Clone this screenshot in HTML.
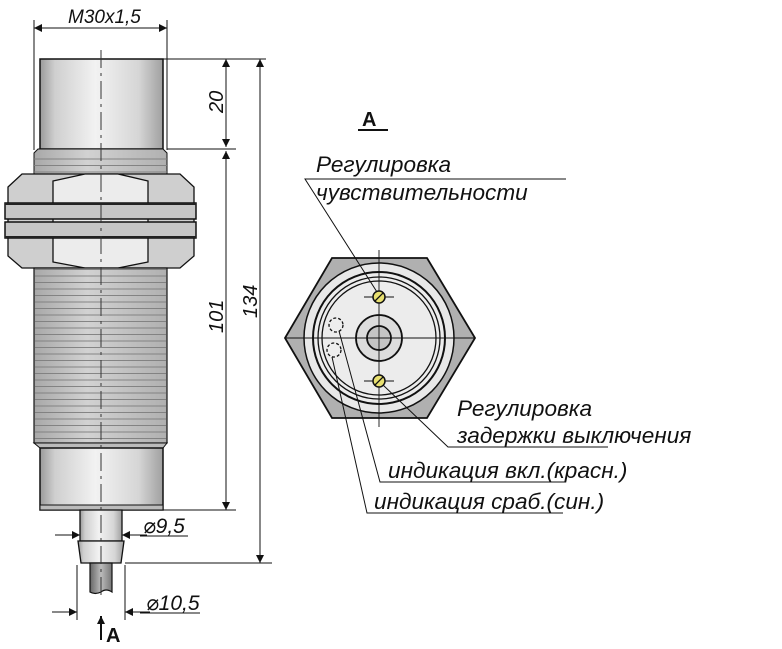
<!DOCTYPE html>
<html><head><meta charset="utf-8"><style>
html,body{margin:0;padding:0;background:#fff;width:782px;height:649px;overflow:hidden}
svg{display:block}
text{font-family:"Liberation Sans","DejaVu Sans",sans-serif;fill:#111}
.it{font-style:italic;font-size:22.6px}
</style></head><body>
<svg width="782" height="649" viewBox="0 0 782 649" xmlns="http://www.w3.org/2000/svg">
<defs>
<linearGradient id="cyl" x1="0" x2="1" y1="0" y2="0">
<stop offset="0" stop-color="#9a9a9a"/><stop offset="0.12" stop-color="#cfcfcf"/><stop offset="0.45" stop-color="#f2f2f2"/><stop offset="0.8" stop-color="#d6d6d6"/><stop offset="1" stop-color="#a0a0a0"/>
</linearGradient>
<linearGradient id="thr" x1="0" x2="1" y1="0" y2="0">
<stop offset="0" stop-color="#a8a8a8"/><stop offset="0.4" stop-color="#d2d2d2"/><stop offset="1" stop-color="#b0b0b0"/>
</linearGradient>
<pattern id="tl" width="10" height="6.5" patternUnits="userSpaceOnUse">
<line x1="0" y1="3" x2="10" y2="3" stroke="#7d7d7d" stroke-width="0.9"/>
</pattern>
<linearGradient id="cab" x1="0" x2="1"><stop offset="0" stop-color="#666"/><stop offset="0.5" stop-color="#bbb"/><stop offset="1" stop-color="#777"/></linearGradient>
<marker id="ar" viewBox="0 0 10 10" refX="10" refY="5" markerWidth="12" markerHeight="8" orient="auto-start-reverse" markerUnits="userSpaceOnUse"><path d="M0,0 L10,5 L0,10z" fill="#111"/></marker>
</defs>

<rect x="40" y="59" width="123" height="90" fill="url(#cyl)" stroke="#111" stroke-width="1.5"/>
<path d="M34,153 L38,149 L163,149 L167,153 L167,175 L34,175z" fill="url(#thr)" stroke="#111" stroke-width="1"/>
<rect x="34" y="153" width="133" height="22" fill="url(#tl)"/>
<path d="M8,187 L22,174 L180,174 L194,187 L194,256 L180,268 L22,268 L8,256z" fill="#cfcfcf" stroke="#111" stroke-width="1.3"/>
<path d="M53,181 L85,174 L118,174 L148,181 L148,262 L118,268 L85,268 L53,262z" fill="#ececec" stroke="#111" stroke-width="1.3"/>
<rect x="5" y="203" width="191" height="16" fill="#c6c6c6" stroke="#111" stroke-width="1.5"/>
<rect x="5" y="222" width="191" height="16" fill="#c6c6c6" stroke="#111" stroke-width="1.5"/>
<line x1="5" y1="204" x2="196" y2="204" stroke="#222" stroke-width="2"/>
<line x1="5" y1="237" x2="196" y2="237" stroke="#222" stroke-width="2"/>
<rect x="34" y="268" width="133" height="175" fill="url(#thr)" stroke="#111" stroke-width="1.2"/>
<rect x="35" y="268" width="131" height="175" fill="url(#tl)"/>
<path d="M34,443 L167,443 L163,448 L40,448z" fill="#bbb" stroke="#111"/>
<rect x="40" y="448" width="123" height="62" fill="url(#cyl)" stroke="#111" stroke-width="1.5"/>
<rect x="40" y="505" width="123" height="5" fill="#bbb" stroke="#111"/>
<rect x="80" y="510" width="42" height="31" fill="url(#cyl)" stroke="#111" stroke-width="1.3"/>
<path d="M78,541 L124,541 L121,563 L81,563z" fill="url(#cyl)" stroke="#111" stroke-width="1.3"/>
<path d="M90,563 L112,563 L112,592 Q106,588 101,592 Q95,595 90,592z" fill="url(#cab)" stroke="#111" stroke-width="1.2"/>
<line x1="101" y1="50" x2="101" y2="600" stroke="#333" stroke-width="1" stroke-dasharray="18,5,3,5"/>

<g stroke="#111" stroke-width="1" fill="none">
<line x1="34" y1="20" x2="34" y2="150"/><line x1="167" y1="20" x2="167" y2="150"/>
<line x1="34" y1="28" x2="167" y2="28" marker-start="url(#ar)" marker-end="url(#ar)"/>
<line x1="163" y1="59" x2="266" y2="59"/>
<line x1="167" y1="149" x2="236" y2="149"/>
<line x1="163" y1="510" x2="236" y2="510"/>
<line x1="125" y1="563" x2="272" y2="563"/>
<line x1="226" y1="59" x2="226" y2="147" marker-start="url(#ar)" marker-end="url(#ar)"/>
<line x1="226" y1="151" x2="226" y2="510" marker-start="url(#ar)" marker-end="url(#ar)"/>
<line x1="260" y1="59" x2="260" y2="563" marker-start="url(#ar)" marker-end="url(#ar)"/>
<line x1="55" y1="535" x2="80" y2="535" marker-end="url(#ar)"/>
<line x1="147" y1="535" x2="122" y2="535" marker-end="url(#ar)"/>
<line x1="140" y1="536" x2="188" y2="536"/>
<line x1="77" y1="565" x2="77" y2="620"/><line x1="125" y1="565" x2="125" y2="620"/>
<line x1="52" y1="612" x2="77" y2="612" marker-end="url(#ar)"/>
<line x1="150" y1="612" x2="125" y2="612" marker-end="url(#ar)"/>
<line x1="140" y1="613" x2="200" y2="613"/>
<line x1="101" y1="640" x2="101" y2="616" stroke-width="2" marker-end="url(#ar)"/>
</g>
<text x="68" y="23" font-size="19" font-style="italic">M30x1,5</text>
<text transform="translate(223,113) rotate(-90)" font-size="20" font-style="italic">20</text>
<text transform="translate(223,333) rotate(-90)" font-size="20" font-style="italic">101</text>
<text transform="translate(257,318) rotate(-90)" font-size="20" font-style="italic">134</text>
<text x="143" y="533" font-size="21" font-style="italic">⌀9,5</text>
<text x="146" y="610" font-size="21" font-style="italic">⌀10,5</text>
<text x="106" y="642" font-size="20" font-weight="bold">A</text>

<text x="362" y="126" font-size="20" font-weight="bold">A</text>
<line x1="358" y1="130" x2="388" y2="130" stroke="#111" stroke-width="2"/>
<path d="M332,258 L427,258 L475,338 L427,418 L332,418 L285,338z" fill="#b0b0b0" stroke="#111" stroke-width="1.8"/>
<circle cx="379" cy="338" r="75" fill="#e8e8e8" stroke="#111" stroke-width="1.5"/>
<circle cx="379" cy="338" r="66" fill="#ececec" stroke="#111" stroke-width="2"/>
<circle cx="379" cy="338" r="61" fill="#ececec" stroke="#111" stroke-width="1.3"/>
<circle cx="379" cy="338" r="57" fill="#ececec" stroke="#111" stroke-width="1.3"/>
<circle cx="379" cy="338" r="23" fill="#dcdcdc" stroke="#111" stroke-width="1.8"/>
<circle cx="379" cy="338" r="12" fill="#c4c4c4" stroke="#111" stroke-width="1.8"/>
<g stroke="#111" stroke-width="0.9">
<line x1="286" y1="338" x2="474" y2="338"/>
<line x1="379" y1="250" x2="379" y2="427"/>
<line x1="364" y1="297" x2="394" y2="297"/><line x1="364" y1="381" x2="394" y2="381"/>
</g>
<circle cx="379" cy="297" r="6" fill="#e8e070" stroke="#111" stroke-width="1.5"/>
<line x1="375" y1="301" x2="383" y2="293" stroke="#111" stroke-width="1.3"/>
<circle cx="379" cy="381" r="6" fill="#e8e070" stroke="#111" stroke-width="1.5"/>
<line x1="375" y1="385" x2="383" y2="377" stroke="#111" stroke-width="1.3"/>
<circle cx="336" cy="325" r="7" fill="#eee" stroke="#111" stroke-width="1.3" stroke-dasharray="3,2"/>
<circle cx="334" cy="350" r="7" fill="#eee" stroke="#111" stroke-width="1.3" stroke-dasharray="3,2"/>
<g stroke="#111" stroke-width="1" fill="none">
<polyline points="566,179 305,179 377,292"/>
<polyline points="608,447 448,447 383,385"/>
<polyline points="565,482 380,482 339,331"/>
<polyline points="563,513 367,513 332,357"/>
</g>
<text x="316" y="172" class="it">Регулировка</text>
<text x="316" y="200" class="it">чувствительности</text>
<text x="457" y="416" class="it">Регулировка</text>
<text x="457" y="443" class="it">задержки выключения</text>
<text x="388" y="478" class="it">индикация вкл.(красн.)</text>
<text x="374" y="509" class="it">индикация сраб.(син.)</text>
</svg>
</body></html>
